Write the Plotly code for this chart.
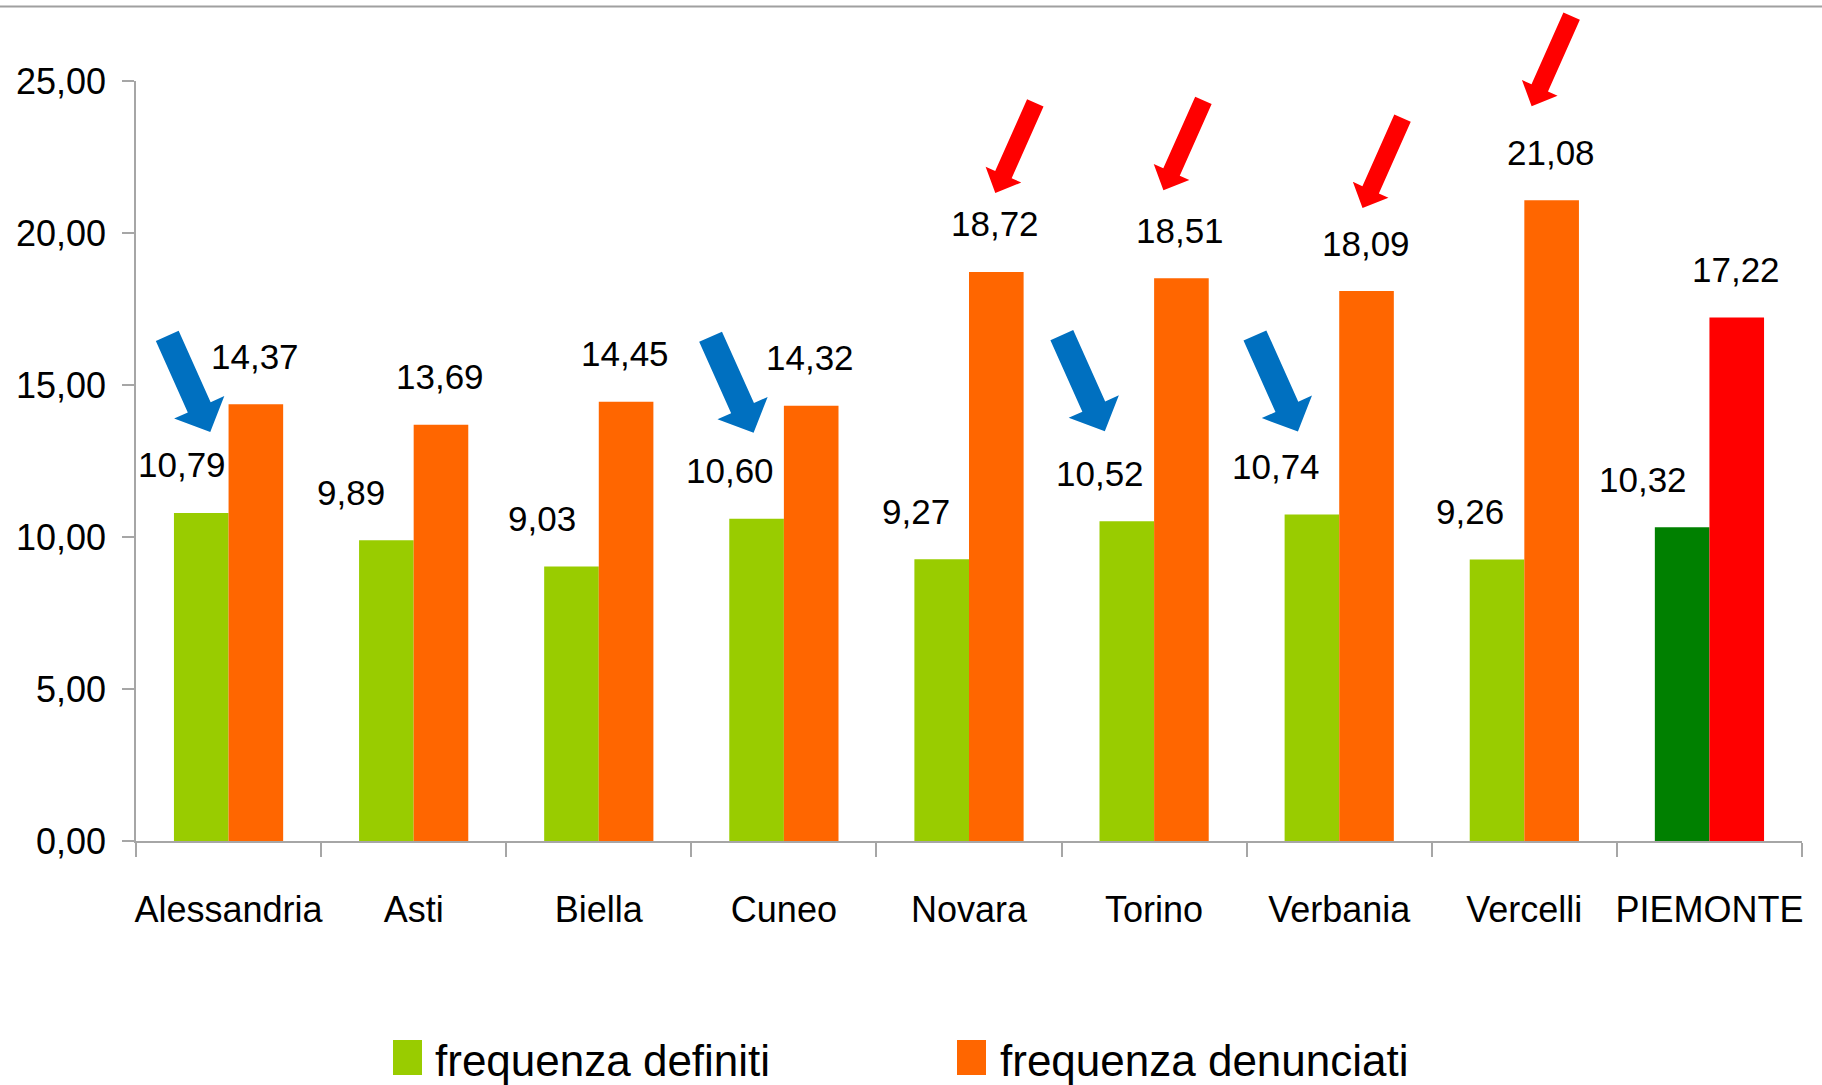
import math
import plotly.graph_objects as go

# ---------------- data ----------------
categories = ["Alessandria", "Asti", "Biella", "Cuneo", "Novara",
              "Torino", "Verbania", "Vercelli", "PIEMONTE"]
freq_definiti = [10.79, 9.89, 9.03, 10.60, 9.27, 10.52, 10.74, 9.26, 10.32]
freq_denunciati = [14.37, 13.69, 14.45, 14.32, 18.72, 18.51, 18.09, 21.08, 17.22]
y_tick_values = [0, 5, 10, 15, 20, 25]
series_names = ["frequenza definiti", "frequenza denunciati"]

# categories highlighted by arrows
blue_arrow_categories = ["Alessandria", "Cuneo", "Torino", "Verbania"]
red_arrow_categories = ["Novara", "Torino", "Verbania", "Vercelli"]

# ---------------- styles ----------------
GREEN = "#99CC00"
ORANGE = "#FF6600"
DARK_GREEN = "#008000"
RED = "#FF0000"
BLUE = "#0070C0"
AXIS_GREY = "#A6A6A6"
FONT = "Liberation Sans, Arial, sans-serif"

green_colors = [GREEN] * 8 + [DARK_GREEN]
orange_colors = [ORANGE] * 8 + [RED]

# label / arrow placement offsets in pixels
green_label_dx = [-19, -35, -29, -27, -26, -27, -36, -27, -39]
label_dy = 48
blue_arrow_dx = {"Alessandria": 9, "Cuneo": -3, "Torino": -22, "Verbania": -14}
blue_arrow_dy = {"Alessandria": 81, "Cuneo": 86, "Torino": 90, "Verbania": 83}
red_arrow_dx = {"Novara": -1, "Torino": -18, "Verbania": -4, "Vercelli": -20}
red_arrow_dy = {"Novara": 79, "Torino": 88, "Verbania": 83, "Vercelli": 94}
# arrow geometry: tail offset from tip (screen px), shaft width, head width, head length
BLUE_ARROW = dict(tail=(-43, -96), shaft=25, head_w=55, head_l=27)
RED_ARROW = dict(tail=(40, -90), shaft=18, head_w=39, head_l=20)

W, H = 1822, 1085
ML, MR, MT, MB = 136, 20, 81, 244
PW = W - ML - MR
PH = H - MT - MB
BARGAP = 0.41
X_RANGE = [-0.5, len(categories) - 0.5]
Y_RANGE = [0, 25]
cat_px = PW / len(categories)
bar_w = (1 - BARGAP) / 2 * cat_px
off = bar_w / 2


def fmt(v):
    return f"{v:.2f}".replace(".", ",")


def cat_to_paper(i):
    return (i - X_RANGE[0]) / (X_RANGE[1] - X_RANGE[0])


def val_to_paper(v):
    return (v - Y_RANGE[0]) / (Y_RANGE[1] - Y_RANGE[0])


def arrow_path(tip_x, tip_y, geo):
    """Block arrow polygon; inputs in screen pixels (y down) relative to anchor,
    output path with y up (plotly pixel sizemode)."""
    tx, ty = tip_x + geo["tail"][0], tip_y + geo["tail"][1]
    dx, dy = tip_x - tx, tip_y - ty
    ln = math.hypot(dx, dy)
    ux, uy = dx / ln, dy / ln
    nx, ny = -uy, ux
    bx, by = tip_x - ux * geo["head_l"], tip_y - uy * geo["head_l"]
    s, h = geo["shaft"] / 2, geo["head_w"] / 2
    pts = [(tx + nx * s, ty + ny * s), (bx + nx * s, by + ny * s),
           (bx + nx * h, by + ny * h), (tip_x, tip_y),
           (bx - nx * h, by - ny * h), (bx - nx * s, by - ny * s),
           (tx - nx * s, ty - ny * s)]
    return "M " + " L ".join(f"{x:.2f},{-y:.2f}" for x, y in pts) + " Z"


fig = go.Figure()
fig.add_trace(go.Bar(x=categories, y=freq_definiti, name=series_names[0],
                     marker=dict(color=green_colors, line=dict(width=0))))
fig.add_trace(go.Bar(x=categories, y=freq_denunciati, name=series_names[1],
                     marker=dict(color=orange_colors, line=dict(width=0))))

annotations = []
shapes = []
# data labels
for i, c in enumerate(categories):
    annotations.append(dict(x=c, y=freq_definiti[i], xref="x", yref="y",
                            text=fmt(freq_definiti[i]), showarrow=False,
                            xshift=-off + green_label_dx[i], yshift=label_dy,
                            xanchor="center", yanchor="middle",
                            font=dict(family=FONT, size=35, color="black")))
    annotations.append(dict(x=c, y=freq_denunciati[i], xref="x", yref="y",
                            text=fmt(freq_denunciati[i]), showarrow=False,
                            xshift=off - 1, yshift=label_dy,
                            xanchor="center", yanchor="middle",
                            font=dict(family=FONT, size=35, color="black")))

# block arrows anchored to the bar tops (paper refs so they are not clipped)
for c in blue_arrow_categories:
    i = categories.index(c)
    shapes.append(dict(type="path", xref="paper", yref="paper",
                       xsizemode="pixel", ysizemode="pixel",
                       xanchor=cat_to_paper(i), yanchor=val_to_paper(freq_definiti[i]),
                       path=arrow_path(-off + blue_arrow_dx[c], -blue_arrow_dy[c], BLUE_ARROW),
                       fillcolor=BLUE, line=dict(width=0), layer="above"))
for c in red_arrow_categories:
    i = categories.index(c)
    shapes.append(dict(type="path", xref="paper", yref="paper",
                       xsizemode="pixel", ysizemode="pixel",
                       xanchor=cat_to_paper(i), yanchor=val_to_paper(freq_denunciati[i]),
                       path=arrow_path(off + red_arrow_dx[c], -red_arrow_dy[c], RED_ARROW),
                       fillcolor=RED, line=dict(width=0), layer="above"))


def px_to_paper_x(px):
    return (px - ML) / PW


def px_to_paper_y(py):
    return (H - MB - py) / PH


# custom legend
legend_items = [(series_names[0], GREEN, 393, 433), (series_names[1], ORANGE, 957, 998)]
for name, col, sx, tx in legend_items:
    shapes.append(dict(type="rect", xref="paper", yref="paper",
                       x0=px_to_paper_x(sx), x1=px_to_paper_x(sx + 29),
                       y0=px_to_paper_y(1075), y1=px_to_paper_y(1040),
                       fillcolor=col, line=dict(width=0)))
    annotations.append(dict(x=px_to_paper_x(tx), y=px_to_paper_y(1060),
                            xref="paper", yref="paper", text=name, showarrow=False,
                            xanchor="left", yanchor="middle",
                            font=dict(family=FONT, size=44, color="black")))

# top border line
shapes.append(dict(type="line", xref="paper", yref="paper",
                   x0=px_to_paper_x(0), x1=px_to_paper_x(W),
                   y0=px_to_paper_y(6.5), y1=px_to_paper_y(6.5),
                   line=dict(color="#A0A0A0", width=2)))

fig.update_layout(
    width=W, height=H,
    margin=dict(l=ML, r=MR, t=MT, b=MB, pad=0, autoexpand=False),
    paper_bgcolor="white", plot_bgcolor="white",
    barmode="group", bargap=BARGAP, bargroupgap=0,
    showlegend=False,
    separators=",.",
    font=dict(family=FONT, color="black"),
    annotations=annotations,
    shapes=shapes,
    xaxis=dict(
        type="category", showgrid=False, zeroline=False, automargin=False,
        showline=True, linecolor=AXIS_GREY, linewidth=1.5,
        ticks="outside", ticklen=14, tickcolor=AXIS_GREY, tickwidth=1.5,
        tickson="boundaries", ticklabelstandoff=36, tickangle=0,
        tickfont=dict(family=FONT, size=36, color="black"),
        range=X_RANGE,
    ),
    yaxis=dict(
        range=Y_RANGE, tickvals=y_tick_values, tickformat=".2f",
        showgrid=False, zeroline=False, automargin=False,
        showline=True, linecolor=AXIS_GREY, linewidth=1.5,
        ticks="outside", ticklen=12, tickcolor=AXIS_GREY, tickwidth=1.5,
        ticklabelstandoff=9,
        tickfont=dict(family=FONT, size=36, color="black"),
    ),
)

fig.write_html("out.html", config={"displayModeBar": False},
               post_script="document.body.style.margin='0';document.body.style.overflow='hidden';")
